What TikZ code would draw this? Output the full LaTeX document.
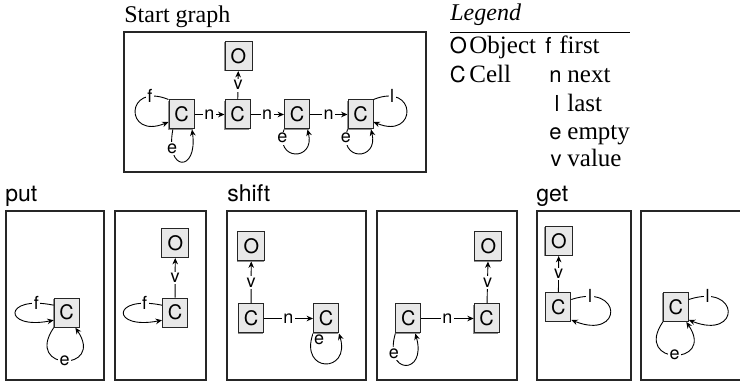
\documentclass[tikz,border=0pt]{standalone}
\usepackage{fontspec}
\setmainfont{Liberation Serif}
\setsansfont{TeX Gyre Heros}
\usetikzlibrary{arrows.meta,shadows}
\begin{document}
\begin{tikzpicture}[x=0.5pt,y=-0.5pt]
\tikzset{
  gnode/.style={draw=black!85, fill=black!9, line width=0.5pt,
    minimum width=12.5pt, minimum height=14.5pt, inner sep=0pt,
    font=\sffamily\fontsize{10}{12}\selectfont,
    general shadow={fill=black!45, shadow xshift=-0.5pt, shadow yshift=-0.5pt}},
  wnode/.style={gnode, minimum width=13.5pt},
  frame/.style={draw=black!85, line width=0.6pt},
  edge/.style={line width=0.45pt, -{Stealth[length=3.2pt,width=2.8pt]}},
  lbl/.style={fill=white, inner sep=0.8pt, font=\sffamily\fontsize{9}{10}\selectfont},
  serift/.style={anchor=base west, inner sep=0pt, font=\fontsize{12}{14}\selectfont},
  sanst/.style={anchor=base west, inner sep=0pt, font=\sffamily\fontsize{11.5}{13}\selectfont},
  legl/.style={inner sep=0pt, font=\sffamily\fontsize{11}{13}\selectfont},
  legw/.style={anchor=base west, inner sep=0pt, font=\fontsize{12.5}{15}\selectfont},
}
\useasboundingbox (0,0) rectangle (740,384);
\clip (0,0) rectangle (740,384);

% ---------------- titles and frames ----------------
\node[serift] (tstart) at (124,22.5) {Start graph};
\draw[frame] (124,32) rectangle (426,172);
\node[sanst] (tput) at (5,201.5) {put};
\node[sanst] (tshift) at (227,201.5) {shift};
\node[sanst] (tget) at (536,201.5) {get};
\draw[frame] (6,211) rectangle (104,380);
\draw[frame] (115,211) rectangle (206,380);
\draw[frame] (227,211) rectangle (366,380);
\draw[frame] (377,211) rectangle (517,380);
\draw[frame] (537,211) rectangle (631,380);
\draw[frame] (641,211) rectangle (770,380);

% ---------------- legend ----------------
\node[serift, font=\itshape\fontsize{12}{14}\selectfont] (tleg) at (450,21) {Legend};
\draw[line width=0.6pt] (450,32.3) -- (630,32.3);
\node[legl, anchor=base west] (lO) at (449.5,53.5) {O};
\node[legw] (wO) at (469,53.5) {Object};
\node[legl, anchor=base west] (lf) at (545,53.5) {f};
\node[legw] (wf) at (559,53.5) {first};
\node[legl, anchor=base west] (lC) at (449.5,82.5) {C};
\node[legw] (wC) at (469,82.5) {Cell};
\node[legl, anchor=base east] (ln) at (562,82.5) {n};
\node[legw] (wn) at (567,82.5) {next};
\node[legl, anchor=base east] (ll) at (560,111.5) {l};
\node[legw] (wl) at (567,111.5) {last};
\node[legl, anchor=base east] (le) at (562,139.5) {e};
\node[legw] (we) at (567,139.5) {empty};
\node[legl, anchor=base east] (lv) at (562,167) {v};
\node[legw] (wv) at (567,167) {value};

% ---------------- start graph ----------------
\node[wnode] (O0) at (238.5,56) {O};
\node[gnode] (C1) at (181.5,114.5) {C};
\node[gnode] (C2) at (237.5,114.5) {C};
\node[gnode] (C3) at (297,114.5) {C};
\node[gnode] (C4) at (360.5,114.5) {C};
\draw[edge] (C1) -- node[lbl]{n} (C2);
\draw[edge] (C2) -- node[lbl]{n} (C3);
\draw[edge] (C3) -- node[lbl]{n} (C4);
\draw[edge] (C2) -- node[lbl]{v} (O0);
\draw[edge] (C1.north west) .. controls +(-44,-18) and +(-44,18) .. node[lbl,pos=0.17]{f} (C1.210);
\draw[edge] (C1.240) .. controls +(-8,43) and +(6,43) .. node[lbl,pos=0.18]{e} (C1.-55);
\draw[edge] (C3.south west) .. controls +(-10,32) and +(8,32) .. node[lbl,pos=0.1]{e} (C3.-55);
\draw[edge] (C4.south west) .. controls +(-10,32) and +(8,32) .. node[lbl,pos=0.1]{e} (C4.-55);
\draw[edge] (C4.north east) .. controls +(44,-18) and +(44,18) .. node[lbl,pos=0.17]{l} (C4.-30);

% ---------------- put ----------------
\node[gnode] (P1C) at (66.7,312.7) {C};
\draw[edge] (P1C.150) .. controls +(-51,-10.5) and +(-51,10) .. node[lbl,pos=0.13]{f} (P1C.210);
\draw[edge] (P1C.south west) .. controls +(-30,44) and +(30,44) .. node[lbl,pos=0.5]{e} (P1C.-60);

\node[wnode] (P2O) at (175.3,243) {O};
\node[gnode] (P2C) at (175,312.7) {C};
\draw[edge] (P2C) -- node[lbl]{v} (P2O);
\draw[edge] (P2C.150) .. controls +(-51,-10.5) and +(-51,10) .. node[lbl,pos=0.13]{f} (P2C.210);

% ---------------- shift ----------------
\node[wnode] (S1O) at (251.3,246.5) {O};
\node[gnode] (S1A) at (251,318.5) {C};
\node[gnode] (S1B) at (326,318.5) {C};
\draw[edge] (S1A) -- node[lbl]{n} (S1B);
\draw[edge] (S1A) -- node[lbl]{v} (S1O);
\draw[edge] (S1B.south west) .. controls +(-14,40) and +(12,40) .. node[lbl,pos=0.06,xshift=4pt]{e} (S1B.south east);

\node[wnode] (S2O) at (488.3,246.5) {O};
\node[gnode] (S2A) at (408.3,318.5) {C};
\node[gnode] (S2B) at (486.7,318.5) {C};
\draw[edge] (S2A) -- node[lbl]{n} (S2B);
\draw[edge] (S2B) -- node[lbl]{v} (S2O);
\draw[edge] (S2A.south west) .. controls +(-12,42) and +(12,42) .. node[lbl,pos=0.2]{e} (S2A.-65);

% ---------------- get ----------------
\node[wnode] (G1O) at (558.8,241) {O};
\node[gnode] (G1C) at (558.3,307) {C};
\draw[edge] (G1C) -- node[lbl]{v} (G1O);
\draw[edge] (G1C.30) .. controls +(52,-17) and +(52,20.5) .. node[lbl,pos=0.14]{l} (G1C.-45);

\node[gnode] (G2C) at (675.8,307) {C};
\draw[edge] (G2C.30) .. controls +(52,-17) and +(52,20.5) .. node[lbl,pos=0.14]{l} (G2C.-45);
\draw[edge] (G2C.south west) .. controls +(-30,44) and +(30,44) .. node[lbl,pos=0.5]{e} (G2C.-55);
\end{tikzpicture}
\end{document}
